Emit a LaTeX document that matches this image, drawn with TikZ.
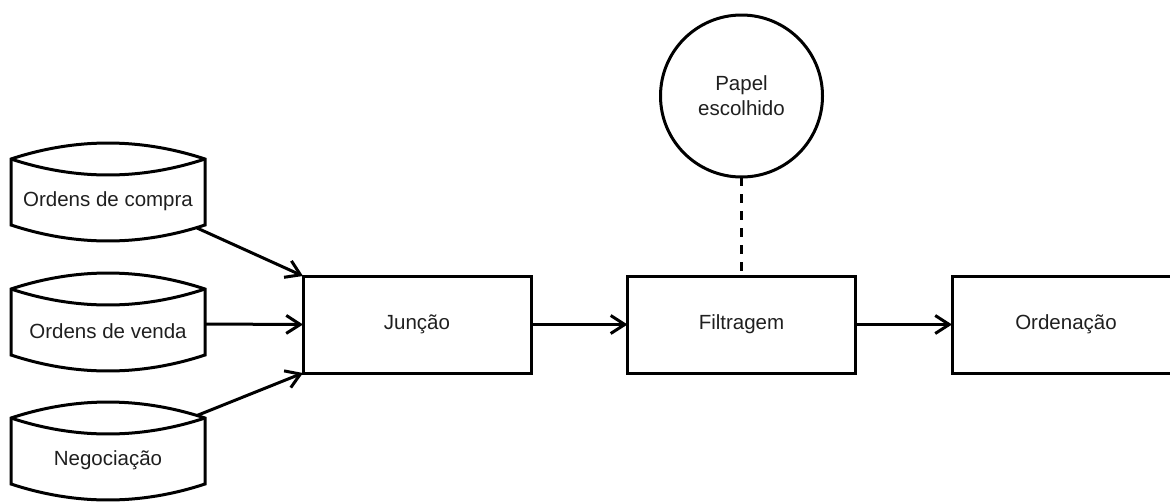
\documentclass[tikz,border=0pt]{standalone}
\usepackage{fontspec}
\setmainfont{Liberation Sans}
\usetikzlibrary{arrows.meta}
\tikzset{
  lw/.style={line width=3pt},
  txt/.style={font=\fontsize{20.5}{25}\selectfont, text=black!88, align=center},
  boxgeom/.style={rectangle, minimum width=228pt, minimum height=97pt, inner sep=0pt, outer sep=0pt, txt},
  procbox/.style={lw, draw=black, boxgeom},
  cylbox/.style={rectangle, minimum width=194pt, minimum height=98pt, inner sep=0pt, outer sep=0pt},
  cylline/.style={lw, draw=black, line join=miter},
  flow/.style={lw, draw=black, -{Straight Barb[length=14pt,width=18pt,line width=3pt]}},
  link/.style={lw, draw=black, dash pattern=on 9pt off 8pt},
}
\newcommand\mycyl[3]{%
  \begin{scope}[yshift=-#2pt]
    \node[cylbox] (#1) at (108,49) {};
    \draw[cylline] (11,16) .. controls (75.7,-5.3) and (140.3,-5.3) .. (205,16)
      -- (205,82) .. controls (140.3,103.3) and (75.7,103.3) .. (11,82) -- cycle;
    \draw[cylline] (11,16) .. controls (75.7,37.3) and (140.3,37.3) .. (205,16);
    \node[txt] (#1t) at (108,58) {#3};
    \coordinate (#1se) at (197,85);
    \coordinate (#1e) at (205,51);
    \coordinate (#1ne) at (197,13.5);
  \end{scope}}
\begin{document}
\begin{tikzpicture}[x=1pt,y=-1pt]
\useasboundingbox (0,0) rectangle (1170,501);
\clip (0,0) rectangle (1170,502);
\mycyl{c1}{143}{Ordens de compra}
\mycyl{c2}{273}{Ordens de venda}
\mycyl{c3}{402}{Negociação}
\node[procbox] (j) at (417,324.5) {Junção};
\node[procbox] (f) at (741.5,324.5) {Filtragem};
\node[boxgeom] (o) at (1066,324.5) {Ordenação};
\draw[lw, line join=miter] ([xshift=10pt]o.north east) -- (o.north west) -- (o.south west) -- ([xshift=10pt]o.south east);
\node[lw, draw=black, circle, minimum size=162pt, inner sep=0pt, outer sep=0pt, txt] (p) at (741.5,96) {Papel\\escolhido};
\draw[flow] (c1se) -- (j.north west);
\draw[flow] (c2e) -- (j.west);
\draw[flow] (c3ne) -- (j.south west);
\draw[flow] (j.east) -- (f.west);
\draw[flow] (f.east) -- (o.west);
\draw[link] (p.south) -- (f.north);
\end{tikzpicture}
\end{document}
